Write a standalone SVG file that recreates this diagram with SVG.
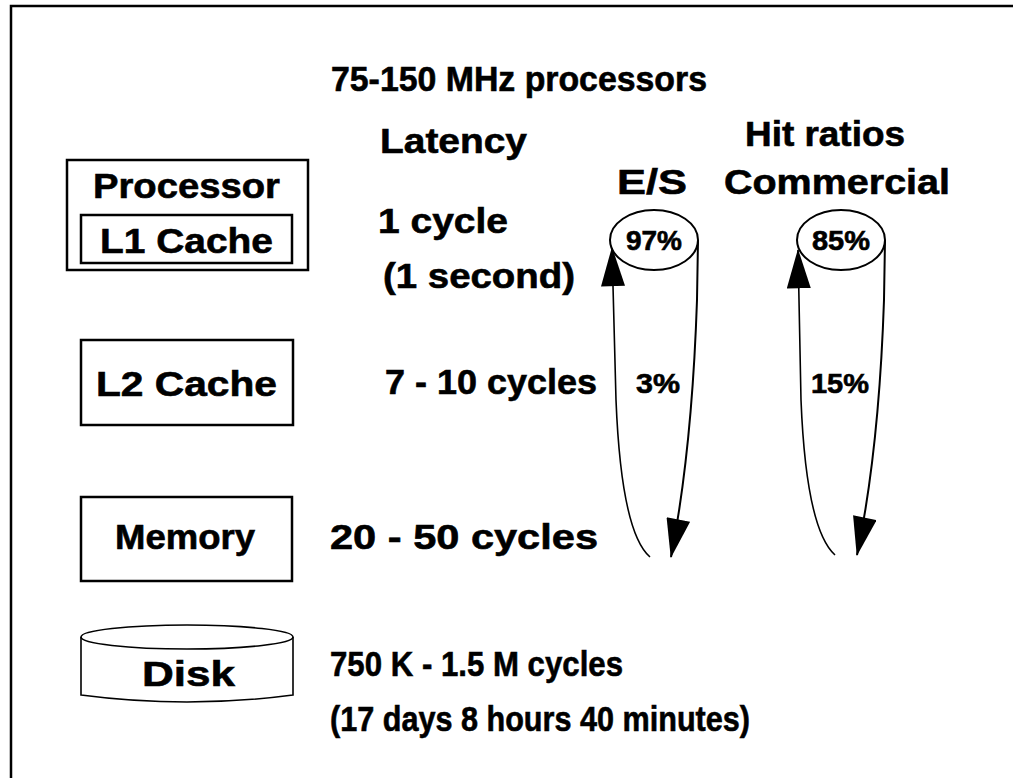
<svg xmlns="http://www.w3.org/2000/svg" width="1013" height="778" viewBox="0 0 1013 778">
<style>
text{font-family:"Liberation Sans",Arial,sans-serif;font-weight:bold;fill:#000;stroke:#000;stroke-width:0.6}
.big{font-size:35px}
.pct{font-size:27px}
.box{fill:none;stroke:#000;stroke-width:2.5}
.thin{fill:none;stroke:#000;stroke-width:1.6}
.conn{fill:none;stroke:#000;stroke-width:2}
</style>
<defs>
<marker id="ah" markerUnits="userSpaceOnUse" markerWidth="40" markerHeight="24" viewBox="0 0 36 22" refX="35" refY="11" orient="auto">
<path d="M0,0 L36,11 L0,22 Z" fill="#000"/>
</marker>
</defs>
<rect width="1013" height="778" fill="#fff"/>
<path d="M11,778 L11,6 L1013,6" fill="none" stroke="#000" stroke-width="2.5"/>

<text class="big" x="331" y="91" textLength="376" lengthAdjust="spacingAndGlyphs">75-150 MHz processors</text>
<text class="big" x="380" y="153" textLength="147" lengthAdjust="spacingAndGlyphs">Latency</text>
<text class="big" x="745" y="146" textLength="160" lengthAdjust="spacingAndGlyphs">Hit ratios</text>
<text class="big" x="617" y="194" textLength="70" lengthAdjust="spacingAndGlyphs">E/S</text>
<text class="big" x="724" y="194" textLength="226" lengthAdjust="spacingAndGlyphs">Commercial</text>

<g id="processor">
<rect class="box" x="67" y="160" width="241" height="110"/>
<text class="big" x="93" y="198" textLength="187" lengthAdjust="spacingAndGlyphs">Processor</text>
</g>
<g id="l1cache">
<rect class="box" x="81" y="215" width="211" height="48"/>
<text class="big" x="100" y="253" textLength="173" lengthAdjust="spacingAndGlyphs">L1 Cache</text>
</g>
<g id="l2cache">
<rect class="box" x="81" y="340" width="212" height="85"/>
<text class="big" x="96" y="396" textLength="181" lengthAdjust="spacingAndGlyphs">L2 Cache</text>
</g>
<g id="memory">
<rect class="box" x="81" y="497" width="211" height="84"/>
<text class="big" x="115" y="549" textLength="140" lengthAdjust="spacingAndGlyphs">Memory</text>
</g>
<g id="disk">
<path class="thin" d="M81,637 L81,695 Q187,709 293,695 L293,637"/>
<ellipse class="thin" cx="187" cy="637" rx="106" ry="12"/>
<text class="big" x="142" y="686" textLength="93" lengthAdjust="spacingAndGlyphs">Disk</text>
</g>

<g id="latency">
<text class="big" x="378" y="233" textLength="130" lengthAdjust="spacingAndGlyphs">1 cycle</text>
<text class="big" x="383" y="288" textLength="192" lengthAdjust="spacingAndGlyphs">(1 second)</text>
<text class="big" x="385" y="394" textLength="212" lengthAdjust="spacingAndGlyphs">7 - 10 cycles</text>
<text class="big" x="330" y="549" textLength="268" lengthAdjust="spacingAndGlyphs">20 - 50 cycles</text>
<text class="big" x="330" y="676" textLength="293" lengthAdjust="spacingAndGlyphs">750 K - 1.5 M cycles</text>
<text class="big" x="330" y="731" textLength="420" lengthAdjust="spacingAndGlyphs">(17 days 8 hours 40 minutes)</text>
</g>

<g id="es-hit">
<ellipse class="conn" cx="654" cy="240" rx="44" ry="30"/>
<text class="pct" x="654" y="250" text-anchor="middle" textLength="56" lengthAdjust="spacingAndGlyphs">97%</text>
</g>
<g id="com-hit">
<ellipse class="conn" cx="841" cy="240" rx="44" ry="30"/>
<text class="pct" x="841" y="250" text-anchor="middle" textLength="58" lengthAdjust="spacingAndGlyphs">85%</text>
</g>
<text class="pct" x="658" y="393" text-anchor="middle" textLength="44" lengthAdjust="spacingAndGlyphs">3%</text>
<text class="pct" x="840" y="393" text-anchor="middle" textLength="58" lengthAdjust="spacingAndGlyphs">15%</text>

<g id="connectors">
<path class="thin" d="M650,557 C628,538 619,475 616,400 L612,248" marker-end="url(#ah)"/>
<path class="conn" d="M698,240 L697,300 Q692,450 671,557" marker-end="url(#ah)"/>
<path class="thin" d="M835,555 C814,536 804,475 801,400 L798,250" marker-end="url(#ah)"/>
<path class="conn" d="M885,240 L884,300 Q879,450 857,555" marker-end="url(#ah)"/>
</g>
</svg>
